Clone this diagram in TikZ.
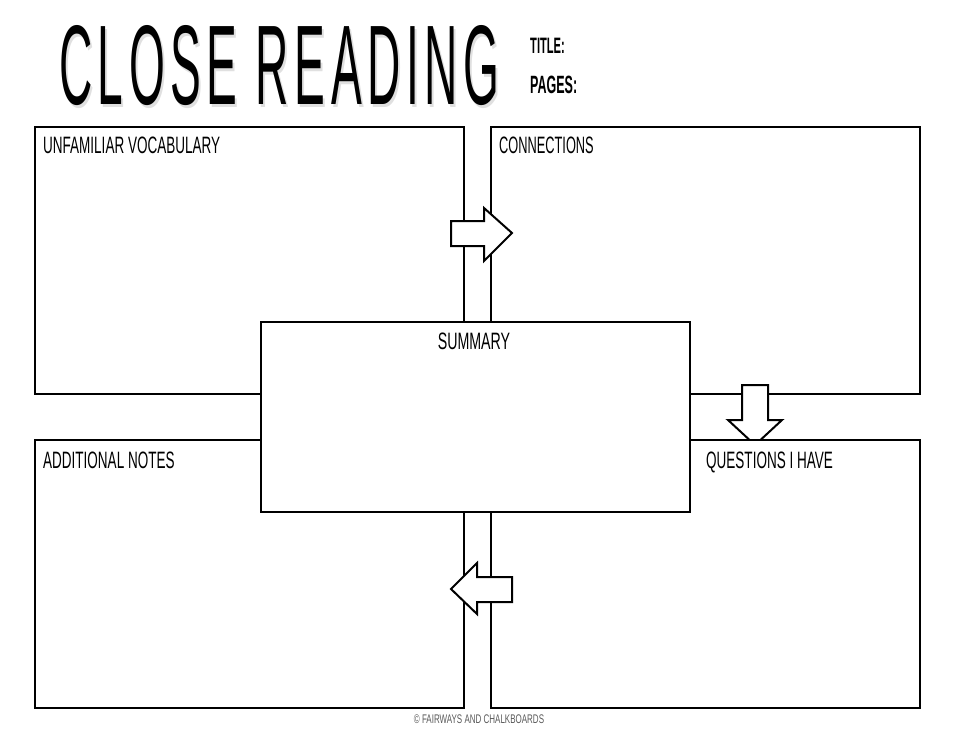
\documentclass[tikz,border=0pt]{standalone}
\usepackage{fontspec}
\setmainfont{Liberation Sans}
\usepackage{graphicx}
\usetikzlibrary{positioning}
\newcommand{\hand}[2][0.57]{\scalebox{#1}[1]{#2}}
\newcommand{\headline}{\resizebox{440pt}{79pt}{\addfontfeature{LetterSpace=12}CLOSE READING}}

\begin{document}
\begin{tikzpicture}[x=1pt, y=-1pt,
    panel/.style={draw, line width=2pt, fill=white, minimum width=429pt, inner sep=0pt},
    blockarrow/.style={draw, line width=2pt, fill=white, line join=miter},
    lbl/.style={font=\fontsize{23.7}{24}\selectfont, inner sep=0pt, anchor=base west}]

    \useasboundingbox (0,0) rectangle (960,742);

    % Heading
    \node[anchor=south west, inner sep=0pt, text=black!12] (shadow) at (61,109) {\headline};
    \node[anchor=south west, inner sep=0pt] (title) at (59,106) {\headline};
    \node[lbl, font=\bfseries\fontsize{22.3}{23}\selectfont] (titlefld) at (530,53) {\hand[0.5]{TITLE:}};
    \node[lbl, font=\bfseries\fontsize{25}{26}\selectfont] (pagesfld) at (530,93) {\hand[0.5]{PAGES:}};

    % Top panels
    \node[panel, minimum height=267pt] (vocab) at (249.5,260.5) {};
    \node[panel, minimum height=267pt] (conn) at (705,260.5) {};

    % Arrows between top panels
    \draw[blockarrow] (451,221) -- (484,221) -- (484,208) -- (512,233)
        -- (484,261) -- (484,246) -- (451,246) -- cycle;
    \draw[blockarrow] (742,385) -- (768,385) -- (768,420) -- (782,420)
        -- (755,445) -- (728,420) -- (742,420) -- cycle;

    % Bottom panels
    \node[panel, minimum height=268pt] (notes) at (249.5,574) {};
    \node[panel, minimum height=268pt] (quest) at (705,574) {};

    % Arrow back to the notes
    \draw[blockarrow] (512,577) -- (477,577) -- (477,563) -- (451,589)
        -- (477,614) -- (477,602) -- (512,602) -- cycle;

    % Summary in the middle
    \node[panel, minimum height=190pt] (summ) at (475.5,417) {};

    % Labels
    \node[lbl] (vocabtxt) at (43,153) {\hand{UNFAMILIAR VOCABULARY}};
    \node[lbl] (conntxt) at (499,153) {\hand[0.54]{CONNECTIONS}};
    \node[lbl, anchor=base] (summtxt) at (474,349) {\hand[0.6]{SUMMARY}};
    \node[lbl] (notestxt) at (43,468) {\hand{ADDITIONAL NOTES}};
    \node[lbl] (questtxt) at (706,468) {\hand{QUESTIONS I HAVE}};

    % Footer
    \node[anchor=base, inner sep=0pt, text=black!65, font=\fontsize{12.5}{13}\selectfont] (credit)
        at (479,723) {\hand[0.64]{\textcopyright{} FAIRWAYS AND CHALKBOARDS}};
\end{tikzpicture}
\end{document}
